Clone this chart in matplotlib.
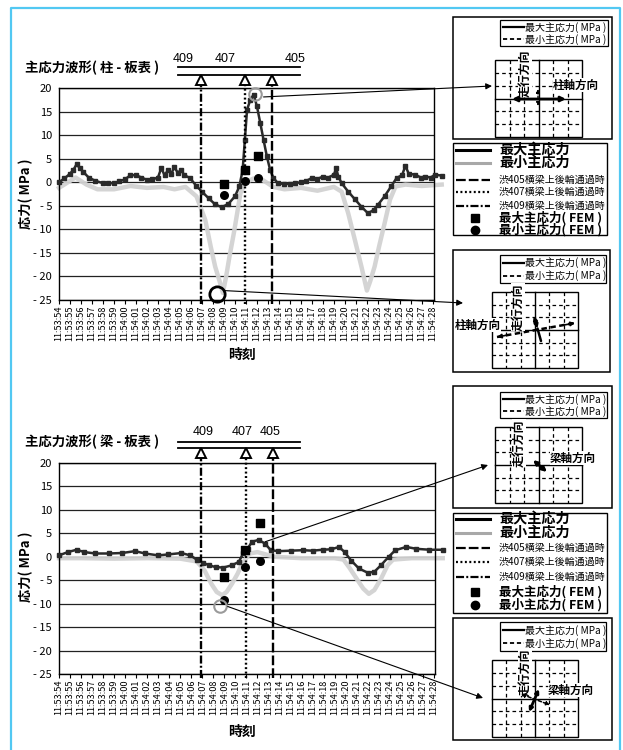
import matplotlib
matplotlib.use("Agg")
import matplotlib.pyplot as plt
from matplotlib.patches import Rectangle, ConnectionPatch
from matplotlib.lines import Line2D

plt.rcParams["font.family"] = ["Liberation Sans Narrow", "DejaVu Sans Condensed",
                               "Noto Sans CJK JP", "DejaVu Sans"]
plt.rcParams["lines.scale_dashes"] = False

# ---------------------------------------------------------------- data
time_labels = [
    "11:53:54", "11:53:55", "11:53:56", "11:53:57", "11:53:58", "11:53:59",
    "11:54:00", "11:54:01", "11:54:02", "11:54:03", "11:54:04", "11:54:05",
    "11:54:06", "11:54:07", "11:54:08", "11:54:09", "11:54:10", "11:54:11",
    "11:54:12", "11:54:13", "11:54:14", "11:54:15", "11:54:16", "11:54:17",
    "11:54:18", "11:54:19", "11:54:20", "11:54:21", "11:54:22", "11:54:23",
    "11:54:24", "11:54:25", "11:54:26", "11:54:27", "11:54:28",
]
y_ticks = [20, 15, 10, 5, 0, -5, -10, -15, -20, -25]
y_tick_labels = ["20", "15", "10", "5", "0", "- 5", "- 10", "- 15", "- 20", "- 25"]

# 柱 - 板表 : measured principal stresses (MPa), time in s from 11:53:54
col_max_t = [0.0, 0.5, 1.0, 1.3, 1.6, 1.9, 2.2, 2.7, 3.3, 4.0, 4.5, 5.0, 5.5, 6.0,
             6.5, 7.0, 7.5, 8.0, 8.5, 9.0, 9.3, 9.6, 9.9, 10.2, 10.5, 10.8, 11.1,
             11.4, 11.9, 12.5, 13.0, 13.6, 14.2, 14.8, 15.4, 16.0, 16.4, 16.7, 16.9,
             17.1, 17.4, 17.7, 18.0, 18.3, 18.6, 18.9, 19.2, 19.5, 19.9, 20.5, 21.0,
             21.5, 22.0, 22.5, 23.0, 23.5, 24.0, 24.5, 25.0, 25.2, 25.4, 25.7, 26.3,
             26.9, 27.5, 28.1, 28.6, 29.0, 29.6, 30.2, 30.7, 31.2, 31.5, 31.8, 32.4,
             32.9, 33.3, 33.8, 34.2, 34.8]
col_max_v = [0.0, 0.8, 1.8, 2.6, 3.8, 3.0, 2.2, 1.0, 0.3, -0.2, -0.2, -0.2, 0.2, 0.6,
             1.5, 1.5, 1.0, 0.5, 0.6, 1.0, 3.0, 1.5, 2.5, 1.8, 3.2, 2.0, 2.6,
             1.5, 0.9, -0.8, -2.0, -3.4, -4.7, -5.3, -4.6, -3.0, -0.9, 2.6, 9.0,
             15.4, 17.5, 18.6, 16.1, 12.6, 9.0, 5.5, 2.6, 0.9, -0.2, -0.4, -0.3,
             -0.2, 0.0, 0.3, 0.9, 0.7, 1.2, 1.0, 1.6, 3.0, 1.2, -0.2, -2.0,
             -3.6, -5.2, -6.6, -5.9, -4.8, -3.0, -0.9, 0.9, 1.5, 3.5, 1.8, 1.6,
             1.0, 1.2, 1.0, 1.6, 1.4]
col_min_t = [0.0, 1.5, 2.5, 3.5, 5.0, 6.5, 8.0, 9.5, 10.5, 11.5, 12.5, 13.3, 13.8,
             14.2, 14.6, 14.9, 15.2, 15.5, 15.9, 16.2, 16.5, 17.0, 17.7, 18.5, 19.5,
             20.5, 22.0, 23.5, 25.0, 25.7, 26.3, 26.9, 27.5, 28.0, 28.3, 28.7, 29.1,
             29.6, 30.1, 30.6, 31.5, 33.0, 34.8]
col_min_v = [-1.2, 1.0, -0.5, -1.5, -1.5, -0.8, -1.2, -1.0, -1.5, -1.0, -3.0, -8.0, -13.7,
             -17.9, -21.0, -23.5, -20.0, -15.8, -10.8, -6.6, -2.3, 0.0, 0.8, 0.5, -1.0,
             -1.5, -1.2, -1.8, -1.0, -2.0, -6.6, -12.2, -17.9, -23.0, -21.0, -17.9, -13.7,
             -8.8, -3.7, -0.9, -0.5, -0.8, -0.5]
col_fem_t = [15.0, 16.9, 18.1]
col_fem_max = [-0.4, 2.7, 5.6]
col_fem_min = [-2.7, 0.3, 1.0]
col_pass_t = [19.4, 16.9, 12.9]          # 渋405, 渋407, 渋409
col_peak = (17.8, 18.7)
col_trough = (14.4, -23.8)

# 梁 - 板表
beam_max_t = [0.0, 0.8, 1.6, 2.3, 3.3, 4.5, 5.7, 6.9, 7.8, 9.0, 9.9, 11.1, 11.9,
              12.5, 13.1, 13.6, 14.2, 14.9, 15.7, 16.3, 16.7, 17.1, 17.5, 18.1, 18.7,
              19.2, 19.9, 21.0, 22.1, 23.0, 23.9, 24.7, 25.4, 25.9, 26.5, 27.2, 28.0,
              28.6, 29.2, 29.9, 30.5, 31.5, 32.4, 33.6, 34.8]
beam_max_v = [0.3, 1.0, 1.5, 1.0, 0.7, 0.7, 0.8, 1.2, 0.7, 0.3, 0.5, 0.8, 0.3,
              -0.6, -1.3, -1.8, -2.2, -2.3, -1.8, -1.1, 0.7, 1.7, 3.2, 3.6, 2.8,
              1.4, 1.2, 1.3, 1.4, 1.3, 1.5, 1.6, 2.1, 1.0, -0.8, -2.5, -3.4,
              -3.2, -1.8, 0.0, 1.4, 2.1, 1.7, 1.5, 1.5]
beam_min_t = [0.0, 2.0, 5.0, 8.0, 11.0, 12.5, 13.2, 13.8, 14.3, 14.8, 15.2, 15.7,
              16.2, 16.6, 17.3, 18.0, 19.5, 22.0, 25.0, 25.8, 26.3, 27.0, 27.6, 28.1,
              28.6, 29.2, 29.8, 30.3, 32.0, 34.8]
beam_min_v = [-0.3, -0.3, -0.4, -0.3, -0.4, -1.0, -2.9, -5.7, -7.5, -8.2, -7.5, -5.7,
              -3.6, -1.5, 0.7, 1.0, 0.0, -0.3, -0.3, -0.6, -2.2, -4.7, -6.8, -7.9,
              -7.1, -4.7, -1.8, -0.6, -0.3, -0.3]
beam_fem_t = [15.0, 16.9, 18.2]
beam_fem_max = [-4.3, 1.4, 7.2]
beam_fem_min = [-9.2, -2.1, -0.9]
beam_pass_t = [19.4, 17.0, 12.9]
beam_peak = (18.7, 3.2)
beam_trough = (14.6, -10.5)

pass_names = ["405", "407", "409"]
pass_dashes = [(7.0, 2.2), (1.4, 1.8), (5.8, 1.6, 1.4, 1.6)]

# ---------------------------------------------------------------- figure
W, H = 623, 750
fig = plt.figure(figsize=(W / 100, H / 100), dpi=100)


def fbox(x0, y0, x1, y1):
    return [x0 / W, 1 - y1 / H, (x1 - x0) / W, (y1 - y0) / H]


# overlay in pixel units for frames, schematics and legends
ov = fig.add_axes([0, 0, 1, 1], zorder=10)
ov.set_xlim(0, W)
ov.set_ylim(H, 0)
ov.axis("off")

CJK = ["Noto Sans CJK JP", "DejaVu Sans"]
NARROW = ["Liberation Sans Narrow", "DejaVu Sans Condensed", "Noto Sans CJK JP",
          "DejaVu Sans"]


def chart(box, max_t, max_v, min_t, min_v, fem_t, fem_max, fem_min, pass_t,
          title, title_y, ylab_y, xlab_y, tri_y, vtop):
    ax = fig.add_axes(fbox(*box))
    ax.set_xlim(0, 34.1)
    ax.set_ylim(-25, 20)
    ax.set_yticks(y_ticks)
    ax.set_yticklabels(y_tick_labels, fontsize=8, family=NARROW)
    ax.set_xticks(range(len(time_labels)))
    ax.set_xticklabels(time_labels, rotation=90, fontsize=6.6, family=NARROW)
    ax.tick_params(axis="x", length=3, pad=1, width=0.8)
    ax.tick_params(axis="y", length=0, pad=5)
    for s in ax.spines.values():
        s.set_linewidth(1.0)
    for v in y_ticks:
        ax.axhline(v, color="#222222", lw=0.9, zorder=1)
    ax.plot(min_t, min_v, color="#d2d2d2", lw=3.2, zorder=2, clip_on=False,
            solid_joinstyle="round", alpha=0.95)
    ax.plot(max_t, max_v, color="#2a2a2a", lw=1.8, marker="s", ms=2.4, zorder=3,
            clip_on=False)
    ax.scatter(fem_t, fem_max, marker="s", s=26, color="black", zorder=6)
    ax.scatter(fem_t, fem_min, marker="o", s=30, color="black", zorder=6)
    for t, d in zip(pass_t, pass_dashes):
        ax.add_line(Line2D([t, t], [-25.8, vtop], color="black", lw=1.7,
                           dashes=d, clip_on=False, zorder=4))
    ax.plot(pass_t, [tri_y] * 3, ls="none", marker="^", ms=7.5, mfc="white",
            mec="black", mew=1.4, clip_on=False, zorder=5)
    ov.text(25, title_y, title, fontsize=9.6, fontweight="bold", family=CJK,
            va="center", ha="left")
    ov.text(26, ylab_y, "応力( MPa )", fontsize=9.5, fontweight="bold", family=CJK,
            rotation=90, va="center", ha="center")
    ov.text(242, xlab_y, "時刻", fontsize=10, fontweight="bold", family=CJK,
            va="center", ha="center")
    return ax


ax1 = chart((59, 88, 434, 300), col_max_t, col_max_v, col_min_t, col_min_v,
            col_fem_t, col_fem_max, col_fem_min, col_pass_t,
            "主応力波形( 柱 - 板表 )", 68, 194, 355, 21.7, 20.9)
ax2 = chart((59, 463, 435, 674), beam_max_t, beam_max_v, beam_min_t, beam_min_v,
            beam_fem_t, beam_fem_max, beam_fem_min, beam_pass_t,
            "主応力波形( 梁 - 板表 )", 442, 567, 732, 22.1, 21.3)

# highlighted points
ax1.plot([col_trough[0]], [col_trough[1]], ls="none", marker="o", ms=11, mfc="none",
         mec="black", mew=2.0, zorder=7, clip_on=False)
ax1.plot([col_peak[0]], [col_peak[1]], ls="none", marker="o", ms=9, mfc="none",
         mec="#9a9a9a", mew=1.5, zorder=7, clip_on=False)
ax2.plot([beam_trough[0]], [beam_trough[1]], ls="none", marker="o", ms=9, mfc="none",
         mec="#9a9a9a", mew=1.5, zorder=7, clip_on=False)

# bridge schematics
for (y_a, y_b), labels in (((67, 75), [(183, 59, "409"), (225, 59, "407"), (295, 59, "405")]),
                           ((442, 448), [(203, 432, "409"), (242, 432, "407"), (270, 432, "405")])):
    ov.plot([178, 300], [y_a, y_a], color="black", lw=1.3)
    ov.plot([178, 300], [y_b, y_b], color="black", lw=1.3)
    for x, y, s in labels:
        ov.text(x, y, s, fontsize=9, family=["Liberation Sans", "DejaVu Sans"],
                ha="center", va="center")


# pointers from charts to schematics
def pointer(ax, xy, target):
    con = ConnectionPatch(xyA=xy, coordsA=ax.transData, xyB=target,
                          coordsB=ov.transData, arrowstyle="-|>", mutation_scale=9,
                          lw=0.8, color="black", zorder=12, shrinkA=0, shrinkB=0)
    fig.add_artist(con)


pointer(ax1, (18.6, 18.1), (492, 86))
pointer(ax1, (15.0, -23.0), (463, 303))
pointer(ax2, beam_peak, (488, 465))
pointer(ax2, (15.3, -10.6), (483, 698))


# ---------------------------------------------------------------- side panels
def frame(x0, y0, x1, y1, lw=1.0):
    ov.add_patch(Rectangle((x0, y0), x1 - x0, y1 - y0, fill=False, ec="black", lw=lw))


def stress_legend(x0, y0, x1, y1):
    frame(x0, y0, x1, y1, lw=0.9)
    ya = y0 + (y1 - y0) * 0.28
    yb = y0 + (y1 - y0) * 0.74
    ov.plot([x0 + 3, x0 + 24], [ya, ya], color="black", lw=1.6)
    ov.plot([x0 + 3, x0 + 24], [yb, yb], color="black", lw=1.3, dashes=(3, 2))
    ov.text(x0 + 25, ya, "最大主応力( MPa )", fontsize=7.2, family=NARROW, va="center")
    ov.text(x0 + 25, yb, "最小主応力( MPa )", fontsize=7.2, family=NARROW, va="center")


def direction_grid(x0, y0, x1, y1):
    frame(x0, y0, x1, y1, lw=1.0)
    for i in range(1, 6):
        x = x0 + i * (x1 - x0) / 6
        y = y0 + i * (y1 - y0) / 6
        if i == 3:
            ov.plot([x, x], [y0, y1], color="black", lw=1.0)
            ov.plot([x0, x1], [y, y], color="black", lw=1.0)
        else:
            ov.plot([x, x], [y0, y1], color="black", lw=0.9, dashes=(2.6, 2.2))
            ov.plot([x0, x1], [y, y], color="black", lw=0.9, dashes=(2.6, 2.2))


def arrow(p0, p1, style="<|-|>", lw=1.8, dashed=False, ms=7):
    props = dict(arrowstyle=style, lw=lw, color="black", mutation_scale=ms,
                 shrinkA=0, shrinkB=0)
    if dashed:
        props["linestyle"] = (0, (2.5, 1.5))
    ov.annotate("", xy=p1, xytext=p0, arrowprops=props)


def panel(box, leg, grid, run_xy, axis_xy, axis_text):
    frame(*box, lw=1.1)
    stress_legend(*leg)
    direction_grid(*grid)
    ov.text(run_xy[0], run_xy[1], "走行方向", fontsize=8.6, fontweight="bold",
            family=CJK, rotation=90, ha="center", va="center", zorder=3,
            bbox=dict(fc="white", ec="none", pad=0.05))
    ov.text(axis_xy[0], axis_xy[1], axis_text, fontsize=8.3, fontweight="bold",
            family=CJK, ha="left", va="center",
            bbox=dict(fc="white", ec="none", pad=0.05))


panel((453, 17, 612, 139), (500, 20, 608, 46), (495, 60, 582, 137),
      (525, 73), (553, 85), "柱軸方向")
arrow((512, 99), (566, 99), lw=2.0)
arrow((538, 89), (538, 106), lw=1.0, dashed=True, ms=5)

panel((453, 250, 610, 372), (500, 255, 606, 283), (492, 292, 578, 368),
      (518, 307), (455, 325), "柱軸方向")
ov.plot([497, 575], [337, 323], color="black", lw=1.8, dashes=(4, 2.5))
arrow((509, 334.8), (497, 337), style="-|>", lw=1.2, ms=6)
arrow((563, 325.2), (575, 323), style="-|>", lw=1.2, ms=6)
arrow((537.5, 328.5), (534, 316), style="<|-|>", lw=1.8, ms=5)
arrow((537.5, 328.5), (541, 341), style="-", lw=1.8, ms=5)

panel((453, 386, 612, 508), (500, 392, 607, 418), (495, 427, 582, 503),
      (519, 443), (550, 458), "梁軸方向")
arrow((533, 460), (547, 472), lw=2.0, ms=6)

panel((453, 618, 612, 740), (500, 622, 606, 651), (492, 660, 578, 737),
      (525, 672), (548, 690), "梁軸方向")
arrow((529, 712), (539, 689), lw=2.0, ms=5)
arrow((521, 694), (550, 705), lw=1.1, ms=5, dashed=True)


# main legends
def main_legend(x0, y0, x1, y1, rows):
    frame(x0, y0, x1, y1, lw=1.0)
    hx = [x0 + 3, x0 + 37]
    ov.plot(hx, [rows[0]] * 2, color="black", lw=2.2)
    ov.plot(hx, [rows[1]] * 2, color="#a8a8a8", lw=2.2)
    for r, d in zip(rows[2:5], pass_dashes):
        ov.plot(hx, [r, r], color="black", lw=1.6, dashes=d)
    ov.plot([x0 + 22], [rows[5]], marker="s", ms=5.5, color="black")
    ov.plot([x0 + 22], [rows[6]], marker="o", ms=6, color="black")
    tx = x0 + 46
    ov.text(tx, rows[0], "最大主応力", fontsize=10.2, fontweight="bold", family=CJK, va="center")
    ov.text(tx, rows[1], "最小主応力", fontsize=10.2, fontweight="bold", family=CJK, va="center")
    for r, n in zip(rows[2:5], pass_names):
        ov.text(tx, r, "渋" + n + "横梁上後輪通過時", fontsize=7.2, family=NARROW,
                va="center")
    ov.text(tx, rows[5], "最大主応力( FEM )", fontsize=9, fontweight="bold", family=CJK,
            va="center")
    ov.text(tx, rows[6], "最小主応力( FEM )", fontsize=9, fontweight="bold", family=CJK,
            va="center")


main_legend(453, 143, 607, 235, [150, 163, 180, 192, 206, 218, 230])
main_legend(453, 513, 607, 613, [519, 533, 548, 562, 577, 592, 605])

# outer frame
ov.plot([10.5, 10.5, 620, 620], [H, 7.5, 7.5, H], color="#52c8f2", lw=1.6)

fig.savefig("out.png", dpi=100)
